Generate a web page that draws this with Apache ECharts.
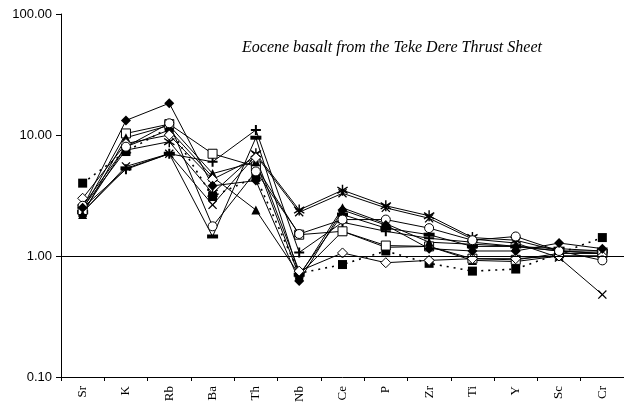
<!DOCTYPE html>
<html><head><meta charset="utf-8">
<script src="https://cdn.jsdelivr.net/npm/echarts@6/dist/echarts.min.js"></script>
<style>html,body{margin:0;padding:0;background:#fff}#c{width:624px;height:408px}</style>
</head><body><div id="c"></div>
<script>
const elements = ['Sr','K','Rb','Ba','Th','Nb','Ce','P','Zr','Ti','Y','Sc','Cr'];
const yTicks = [0.1, 1, 10, 100];
const filledDiamond = [2.5, 13.2, 18.3, 3.8, 4.2, 0.62, 2.4, 1.8, 1.15, 1.1, 1.1, 1.28, 1.15];
const openSquare    = [2.4, 10.3, 12.3, 7.0, 5.5, 1.5, 1.6, 1.22, 1.2, 0.95, 0.93, 1.05, 1.05];
const dottedSquare  = [4.0, 7.3, 11.5, 3.1, 4.5, 0.72, 0.85, 1.1, 0.87, 0.75, 0.78, 1.05, 1.42];
const triangleA     = [2.2, 9.5, 12.0, 4.8, 6.0, 0.68, 2.5, 1.85, 1.3, 1.25, 1.2, 1.1, 1.05];
const triangleB     = [2.3, 8.0, 11.0, 4.5, 2.4, 0.7, 1.6, 1.18, 1.2, 0.92, 0.9, 1.0, 1.0];
const openDiamond   = [3.0, 8.5, 10.0, 4.3, 6.5, 0.75, 1.06, 0.88, 0.92, 0.95, 0.95, 1.0, 1.0];
const openCircle    = [2.6, 8.0, 12.5, 1.76, 5.0, 1.52, 2.0, 2.0, 1.7, 1.35, 1.45, 1.1, 0.92];
const asterisk      = [2.5, 7.5, 8.8, 3.3, 7.0, 2.4, 3.5, 2.6, 2.15, 1.42, 1.35, 1.1, 1.1];
const plusMark      = [2.5, 5.2, 7.0, 6.0, 11.0, 1.07, 1.9, 1.6, 1.4, 1.3, 1.2, 1.1, 1.05];
const crossMark     = [2.3, 5.5, 7.0, 2.65, 6.8, 2.3, 3.3, 2.5, 2.05, 1.38, 1.28, 0.97, 0.48];
const barMark       = [2.3, 5.3, 7.0, 1.45, 9.5, 0.7, 2.2, 1.7, 1.5, 1.2, 1.2, 1.15, 1.1];

const P_PLUS = 'path://M4,0L6,0L6,4L10,4L10,6L6,6L6,10L4,10L4,6L0,6L0,4L4,4Z';
const P_X = 'path://M0,1L1,0L5,4L9,0L10,1L6,5L10,9L9,10L5,6L1,10L0,9L4,5Z';
const P_STAR = 'path://M4.4,0L5.6,0L5.6,3.9L9,1.6L9.6,2.6L6.3,5L9.6,7.4L9,8.4L5.6,6.1L5.6,10L4.4,10L4.4,6.1L1,8.4L0.4,7.4L3.7,5L0.4,2.6L1,1.6L4.4,3.9Z';

function s(name, data, symbol, size, filled, dotted) {
  return {
    name, type: 'line', data, symbol, symbolSize: size, showSymbol: true,
    lineStyle: { color: '#000', width: dotted ? 1.6 : 1, type: dotted ? [2, 5] : 'solid' },
    itemStyle: { color: filled ? '#000' : '#fff', borderColor: '#000', borderWidth: filled ? 0 : 1 },
    z: 3, animation: false
  };
}

const series = [
  s('dotted', dottedSquare, 'rect', 9, true, true),
  s('cross', crossMark, P_X, 9, true),
  s('star', asterisk, P_STAR, 11, true),
  s('plus', plusMark, P_PLUS, 10, true),
  s('bar', barMark, 'rect', [11, 4], true),
  s('triB', triangleB, 'triangle', 9, true),
  s('openSq', openSquare, 'rect', 9, false),
  s('triA', triangleA, 'triangle', 9, true),
  s('openDia', openDiamond, 'diamond', 10, false),
  s('circle', openCircle, 'circle', 9, false),
  s('dia', filledDiamond, 'diamond', 10, true)
];
series[0].markLine = {
  silent: true, symbol: 'none', label: { show: false },
  lineStyle: { color: '#000', width: 1, type: 'solid' },
  data: [{ yAxis: 1 }]
};

const chart = echarts.init(document.getElementById('c'), null, { renderer: 'canvas' });
chart.setOption({
  animation: false,
  backgroundColor: '#fff',
  grid: { left: 61, right: -2, top: 14, bottom: 31 },
  graphic: [{
    type: 'text', left: 242, top: 40,
    style: { text: 'Eocene basalt from the Teke Dere Thrust Sheet', font: 'italic 16px "Liberation Serif", "Times New Roman", serif', fill: '#000' }
  }],
  xAxis: {
    type: 'category', data: elements, boundaryGap: true,
    axisLine: { lineStyle: { color: '#000', width: 1 } },
    axisTick: { show: true, inside: false, length: 4, alignWithLabel: false, lineStyle: { color: '#000' } },
    axisLabel: { rotate: 90, color: '#000', fontFamily: '"Liberation Serif", "Times New Roman", serif', fontSize: 13, margin: 9, interval: 0 },
    splitLine: { show: false }
  },
  yAxis: {
    type: 'log', logBase: 10, min: yTicks[0], max: yTicks[yTicks.length - 1],
    axisLine: { show: true, lineStyle: { color: '#000', width: 1 } },
    axisTick: { show: true, length: 5, lineStyle: { color: '#000' } },
    axisLabel: { color: '#000', fontFamily: '"Liberation Sans", Arial, sans-serif', fontSize: 13, margin: 9,
      formatter: v => Number(v).toFixed(2) },
    splitLine: { show: false },
    minorTick: { show: false }
  },
  series
});
</script></body></html>
